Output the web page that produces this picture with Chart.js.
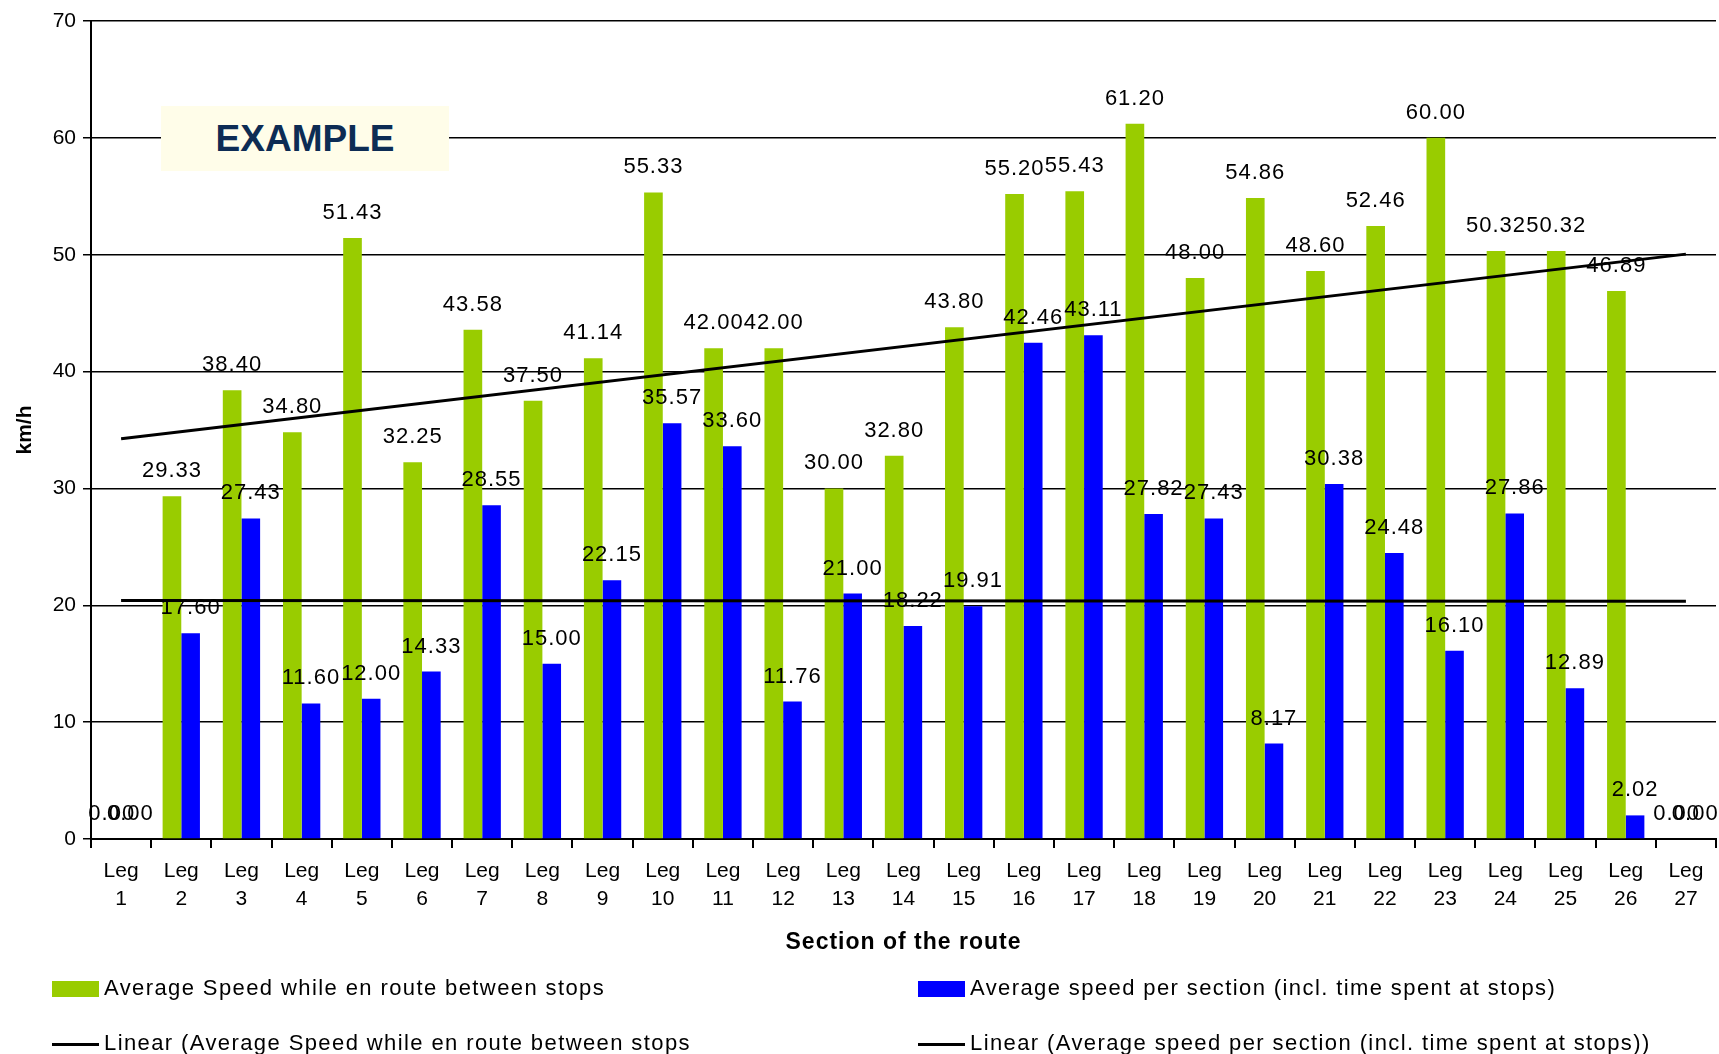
<!DOCTYPE html>
<html>
<head>
<meta charset="utf-8">
<script src="https://cdn.jsdelivr.net/npm/chart.js@4"></script>
<style>
  html, body { margin: 0; padding: 0; background: #fff; }
  #wrap { position: relative; width: 1719px; height: 1054px; font-family: "Liberation Sans", Arial, sans-serif; }
  #stamp { position: absolute; left: 161px; top: 106px; width: 288px; height: 65px; background: #fffde9;
    color: #0d2c54; font-weight: bold; font-size: 37px; line-height: 65px; text-align: center; }
  #xtitle { position: absolute; left: 91px; width: 1625px; top: 928px; text-align: center;
    font-weight: bold; font-size: 23px; letter-spacing: 1px; color: #000; }
  .lg { position: absolute; font-size: 22px; letter-spacing: 1.4px; color: #000; white-space: nowrap; }
  .lg .box { display: inline-block; width: 47px; height: 16px; vertical-align: middle; margin-right: 5px; }
  .lg .ln { display: inline-block; width: 47px; height: 3px; background: #000; vertical-align: middle; margin-right: 5px; }
</style>
</head>
<body>
<div id="wrap">
  <canvas id="chart" width="1719" height="1054"></canvas>
  <div id="stamp">EXAMPLE</div>
  <div id="xtitle">Section of the route</div>
  <div class="lg" style="left:52px; top:975px;"><span class="box" style="background:#99cc00"></span>Average Speed while en route between stops</div>
  <div class="lg" style="left:918px; top:975px;"><span class="box" style="background:#0000ff"></span>Average speed per section (incl. time spent at stops)</div>
  <div class="lg" style="left:52px; top:1030px;"><span class="ln"></span>Linear (Average Speed while en route between stops</div>
  <div class="lg" style="left:918px; top:1030px;"><span class="ln"></span>Linear (Average speed per section (incl. time spent at stops))</div>
</div>
<script>
const legs = ['Leg 1', 'Leg 2', 'Leg 3', 'Leg 4', 'Leg 5', 'Leg 6', 'Leg 7', 'Leg 8', 'Leg 9',
  'Leg 10', 'Leg 11', 'Leg 12', 'Leg 13', 'Leg 14', 'Leg 15', 'Leg 16', 'Leg 17', 'Leg 18',
  'Leg 19', 'Leg 20', 'Leg 21', 'Leg 22', 'Leg 23', 'Leg 24', 'Leg 25', 'Leg 26', 'Leg 27'];

const enRouteSpeed = [0, 29.33, 38.40, 34.80, 51.43, 32.25, 43.58, 37.50, 41.14, 55.33, 42.00, 42.00,
  30.00, 32.80, 43.80, 55.20, 55.43, 61.20, 48.00, 54.86, 48.60, 52.46, 60.00, 50.32, 50.32, 46.89, 0];

const sectionSpeed = [0, 17.60, 27.43, 11.60, 12.00, 14.33, 28.55, 15.00, 22.15, 35.57, 33.60, 11.76,
  21.00, 18.22, 19.91, 42.46, 43.11, 27.82, 27.43, 8.17, 30.38, 24.48, 16.10, 27.86, 12.89, 2.02, 0];

// trend line end points (Leg 1 and Leg 27)
const enRouteTrend = [34.25, 50.05];
const sectionTrend = [20.4, 20.35];

function trendData(ends) {
  const d = legs.map(() => null);
  d[0] = ends[0];
  d[legs.length - 1] = ends[1];
  return d;
}

const FONT = '"Liberation Sans", Arial, sans-serif';

const valueLabels = {
  id: 'valueLabels',
  afterDatasetsDraw(chart) {
    const ctx = chart.ctx;
    ctx.save();
    ctx.font = '22px ' + FONT;
    ctx.letterSpacing = '1px';
    ctx.fillStyle = '#000';
    ctx.textAlign = 'center';
    ctx.textBaseline = 'alphabetic';
    chart.data.datasets.forEach((ds, i) => {
      const meta = chart.getDatasetMeta(i);
      if (meta.type !== 'bar') return;
      meta.data.forEach((bar, j) => {
        ctx.fillText(ds.data[j].toFixed(2), bar.x, bar.y - 19);
      });
    });
    ctx.restore();
  }
};

const ctx = document.getElementById('chart').getContext('2d');
new Chart(ctx, {
  type: 'bar',
  data: {
    labels: legs,
    datasets: [
      {
        type: 'line',
        data: trendData(enRouteTrend),
        borderColor: '#000',
        borderWidth: 3,
        pointRadius: 0,
        spanGaps: true,
        order: -1
      },
      {
        type: 'line',
        data: trendData(sectionTrend),
        borderColor: '#000',
        borderWidth: 3,
        pointRadius: 0,
        spanGaps: true,
        order: -1
      },
      {
        data: enRouteSpeed,
        backgroundColor: '#99cc00',
        categoryPercentage: 0.62,
        barPercentage: 1.0
      },
      {
        data: sectionSpeed,
        backgroundColor: '#0000ff',
        categoryPercentage: 0.62,
        barPercentage: 1.0
      }
    ]
  },
  options: {
    responsive: false,
    animation: false,
    layout: { padding: { top: 21, right: 3, bottom: 85, left: 0 } },
    plugins: {
      legend: { display: false },
      tooltip: { enabled: false }
    },
    scales: {
      x: {
        afterFit: (s) => { s.height = 130; },
        grid: { drawOnChartArea: false, color: '#000', lineWidth: 2, tickLength: 9 },
        border: { color: '#000', width: 2 },
        ticks: {
          color: '#000',
          font: { family: FONT, size: 21, lineHeight: 1.33 },
          padding: 9,
          maxRotation: 0,
          autoSkip: false,
          callback: function (v) { return this.getLabelForValue(v).split(' '); }
        }
      },
      y: {
        min: 0,
        max: 70,
        afterFit: (s) => { s.width = 91; },
        grid: { color: '#000', lineWidth: 1.5, tickLength: 8 },
        border: { color: '#000', width: 2 },
        ticks: {
          stepSize: 10,
          color: '#000',
          font: { family: FONT, size: 21 },
          padding: 7
        },
        title: {
          display: true,
          text: 'km/h',
          color: '#000',
          font: { family: FONT, size: 21, weight: 'bold' },
          padding: { top: 13, bottom: 0 }
        }
      }
    }
  },
  plugins: [valueLabels]
});
</script>
</body>
</html>
